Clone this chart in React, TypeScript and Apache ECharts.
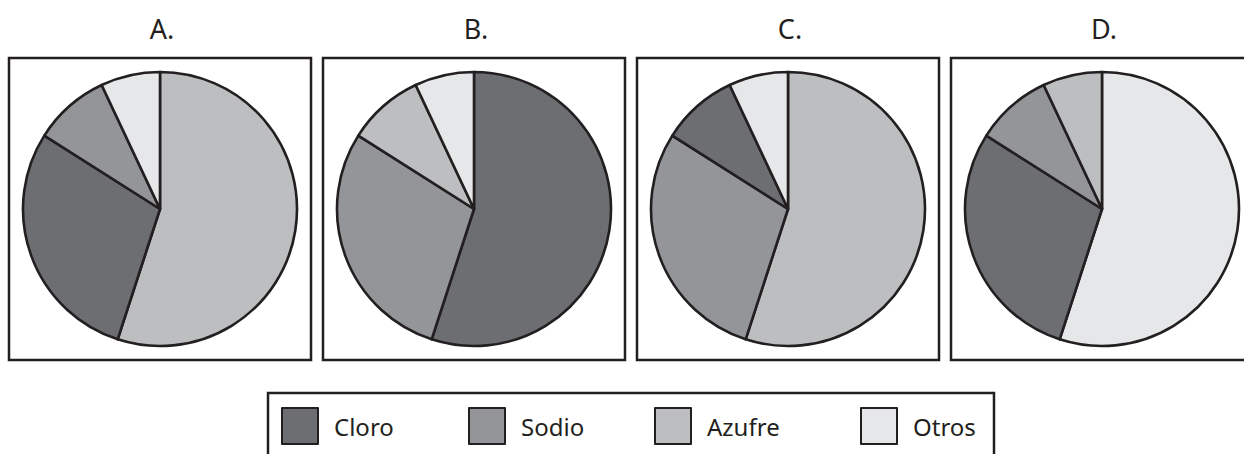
import React, { useEffect, useRef } from "react";
import * as echarts from "echarts";

const categories = ["Cloro", "Sodio", "Azufre", "Otros"];
const colors: Record<string, string> = {
  Cloro: "#6d6e71",
  Sodio: "#939598",
  Azufre: "#bcbec0",
  Otros: "#e6e7e8",
};
const panelTitles = ["A.", "B.", "C.", "D."];
// slices clockwise from 12 o'clock, per panel
const panelOrder = [
  ["Azufre", "Cloro", "Sodio", "Otros"],
  ["Cloro", "Sodio", "Azufre", "Otros"],
  ["Azufre", "Sodio", "Cloro", "Otros"],
  ["Otros", "Cloro", "Sodio", "Azufre"],
];
const sliceValues = [55, 29, 9, 7];

const INK = "#231f20";
const FONT = "'Noto Sans', sans-serif";

export default function App() {
  const ref = useRef<HTMLDivElement>(null);
  useEffect(() => {
    if (!ref.current) return;
    const chart = echarts.init(ref.current, undefined, { renderer: "svg" });
    const boxLeft = [9, 323, 637, 951];
    const boxSize = 302;
    const boxTop = 58;
    const legendLeft = [281, 468, 654, 860];
    const series = panelOrder.map((order, i) => ({
      type: "pie",
      name: panelTitles[i],
      center: [boxLeft[i] + boxSize / 2, boxTop + boxSize / 2],
      radius: 137,
      startAngle: 90,
      clockwise: true,
      silent: true,
      label: { show: false },
      labelLine: { show: false },
      emphasis: { disabled: true },
      data: order.map((name, k) => ({
        name,
        value: sliceValues[k],
        itemStyle: { color: colors[name], borderColor: INK, borderWidth: 2.6 },
      })),
    }));
    const graphic: any[] = [];
    boxLeft.forEach((x, i) => {
      graphic.push({
        type: "rect",
        shape: { x, y: boxTop, width: boxSize, height: boxSize },
        style: { fill: "none", stroke: INK, lineWidth: 2.5 },
        z: 10,
      });
      graphic.push({
        type: "text",
        x: x + boxSize / 2 + 2,
        y: 28,
        style: {
          text: panelTitles[i],
          fill: INK,
          font: `27px ${FONT}`,
          align: "center",
          verticalAlign: "middle",
        },
      });
    });
    graphic.push({
      type: "rect",
      shape: { x: 268, y: 393, width: 726, height: 80 },
      style: { fill: "none", stroke: INK, lineWidth: 2.5 },
    });
    const legend = categories.map((name, i) => ({
      data: [
        {
          name,
          itemStyle: { color: colors[name], borderColor: INK, borderWidth: 2 },
        },
      ],
      left: legendLeft[i],
      top: 407,
      padding: 0,
      icon: "rect",
      itemWidth: 36,
      itemHeight: 36,
      selectedMode: false,
      textStyle: {
        fontFamily: FONT,
        fontSize: 24,
        color: INK,
        padding: [0, 0, 10, 11],
      },
    }));
    chart.setOption({
      animation: false,
      legend,
      graphic,
      series,
    });
    return () => chart.dispose();
  }, []);
  return (
    <div
      ref={ref}
      style={{ position: "fixed", left: 0, top: 0, width: 1244, height: 454, background: "#fff" }}
    />
  );
}
